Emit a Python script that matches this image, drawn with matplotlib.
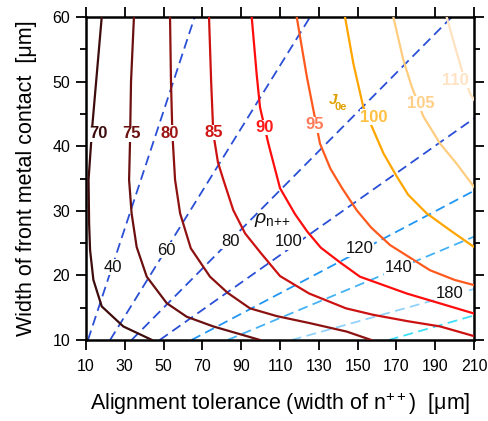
import matplotlib.pyplot as plt
from matplotlib.ticker import MultipleLocator

plt.rcParams['font.family'] = ['Liberation Sans', 'DejaVu Sans']
plt.rcParams['mathtext.fontset'] = 'custom'
plt.rcParams['mathtext.rm'] = 'Liberation Sans'
plt.rcParams['mathtext.it'] = 'Liberation Sans:italic'
plt.rcParams['mathtext.bf'] = 'Liberation Sans:bold'

# J0e iso-lines
j0e_levels = [70, 75, 80, 85, 90, 95, 100, 105, 110]
j0e_x = [
    [18.1, 13.2, 11.3, 11.6, 12.1, 13.8, 18.1, 29.2, 44.0],
    [34.7, 33.2, 32.7, 32.2, 33.5, 36.1, 41.3, 51.6, 61.9, 75.6, 99.7],
    [53.3, 53.8, 54.5, 55.9, 58.5, 64.0, 73.9, 83.0, 94.5, 108.3, 125.5, 144.4, 157.0],
    [73.4, 74.5, 75.6, 78.0, 80.8, 85.9, 92.0, 100.0, 110.0, 125.0, 144.0, 158.0, 176.0, 192.5, 210.0],
    [95.4, 98.0, 99.7, 104.0, 110.0, 117.7, 124.0, 131.0, 141.0, 151.2, 175.3, 210.0],
    [118.6, 123.8, 127.2, 130.6, 136.0, 142.0, 149.5, 157.0, 166.7, 187.3, 200.0, 210.0],
    [143.5, 147.8, 152.9, 158.1, 163.3, 170.2, 176.0, 185.6, 197.6, 210.0],
    [168.4, 173.6, 177.9, 183.9, 192.5, 201.0, 210.0],
    [195.9, 200.2, 204.0, 207.9, 210.0],
]
j0e_y = [
    [60.0, 43.0, 34.8, 28.0, 23.9, 19.3, 15.2, 12.1, 10.0],
    [60.0, 50.0, 41.0, 34.8, 29.6, 24.4, 19.8, 15.7, 13.6, 12.1, 10.0],
    [60.0, 50.0, 42.0, 34.8, 29.6, 24.2, 19.8, 17.3, 14.9, 13.7, 12.6, 11.3, 10.0],
    [60.0, 50.0, 42.0, 37.5, 34.8, 30.1, 26.5, 23.5, 19.9, 17.2, 14.9, 13.9, 12.9, 12.1, 10.6],
    [60.0, 51.0, 46.0, 40.4, 33.5, 29.5, 26.8, 24.3, 22.0, 19.8, 17.2, 14.1],
    [60.0, 50.8, 45.6, 40.4, 36.5, 33.5, 30.1, 27.4, 24.7, 20.8, 19.3, 18.5],
    [60.0, 52.8, 46.1, 42.5, 38.9, 35.3, 32.5, 29.6, 27.0, 24.4],
    [60.0, 53.3, 49.2, 44.6, 40.4, 37.3, 33.7],
    [60.0, 55.4, 51.5, 48.2, 47.2],
]
j0e_label_x = [16.5, 33.2, 53.3, 76.0, 101.8, 128.0, 158.4, 182.5, 200.2]
j0e_label_y = [41.9, 41.9, 42.0, 42.1, 42.9, 43.3, 44.5, 46.6, 50.2]
j0e_colors = ['#3e0c0c', '#6a1010', '#8c1212', '#cc1111', '#ff0d0d',
              '#ff5a1e', '#ffa500', '#ffcd80', '#ffe3c0']
j0e_text_colors = ['#3e0c0c', '#6a1010', '#9c1515', '#d01515', '#ff1a1a',
                   '#ff7c5a', '#ffc040', '#ffcf88', '#ffe3c4']

# rho n++ iso-lines (straight), end points
rho_labels = ['40', '60', '80', '100', '120', '140', '180', '']
rho_x = [[11.0, 66.0], [22.4, 125.5], [33.5, 198.5], [48.0, 210.0],
         [64.4, 210.0], [83.0, 210.0], [116.0, 210.0], [166.0, 210.0]]
rho_y = [[10.0, 60.0], [10.0, 60.0], [10.0, 60.0], [10.0, 44.3],
         [10.0, 33.1], [10.0, 26.0], [10.0, 17.9], [10.0, 13.8]]
rho_label_x = [24.1, 51.6, 84.6, 114.6, 150.9, 171.0, 197.6]
rho_label_y = [21.3, 23.9, 25.3, 25.2, 24.1, 21.2, 17.2]
rho_colors = ['#2a4fd6', '#2a4fd6', '#2a4fd6', '#2a4fd6',
              '#2196f3', '#45b2f5', '#92d2fa', '#3ee0f8']

fig = plt.figure(figsize=(4.89, 4.21), dpi=100)
ax = fig.add_axes([0.1759, 0.1924, 0.7935, 0.7672])

for xs, ys, c in zip(rho_x, rho_y, rho_colors):
    ax.plot(xs, ys, color=c, lw=1.3, dashes=(5.5, 3), zorder=2)

for xs, ys, c in zip(j0e_x, j0e_y, j0e_colors):
    ax.plot(xs, ys, color=c, lw=1.6, zorder=3)

for lev, x, y, c in zip(j0e_levels, j0e_label_x, j0e_label_y, j0e_text_colors):
    ax.text(x, y, str(lev), color=c, fontsize=12, fontweight='bold',
            ha='center', va='center', zorder=5,
            bbox=dict(fc='white', ec='none', pad=0.3))

for lab, x, y in zip(rho_labels, rho_label_x, rho_label_y):
    ax.text(x, y, lab, color='#111111', fontsize=12, ha='center', va='center',
            zorder=5, bbox=dict(fc='white', ec='none', pad=0.3))

ax.text(106, 28.6, r'$\rho_{\mathrm{n}{+}{+}}$', fontsize=14, color='#111111',
        ha='center', va='center', zorder=5)
ax.text(137.5, 47.2, 'J', color='#e0a000', fontsize=11, fontweight='bold',
        fontstyle='italic', ha='center', va='center', zorder=5)
ax.text(141.5, 46.0, '0e', color='#e0a000', fontsize=8, fontweight='bold',
        ha='center', va='center', zorder=5)

ax.set_xlim(10, 210)
ax.set_ylim(10, 60)
ax.set_xticks(range(10, 211, 20))
ax.set_yticks(range(10, 61, 10))
ax.yaxis.set_minor_locator(MultipleLocator(5))
ax.tick_params(which='both', direction='out', top=True, right=True,
               width=1.3, labelsize=11.5)
ax.tick_params(which='major', length=7.5)
ax.tick_params(which='minor', length=4)
ax.tick_params(axis='x', pad=6)
ax.tick_params(axis='y', pad=4)
for s in ax.spines.values():
    s.set_linewidth(1.8)

ax.set_xlabel(r'Alignment tolerance (width of n$^{++}$)  [μm]', fontsize=15.5,
              labelpad=12)
ax.set_ylabel('Width of front metal contact  [μm]', fontsize=15.5, labelpad=11)

fig.savefig('out.png', dpi=100)
